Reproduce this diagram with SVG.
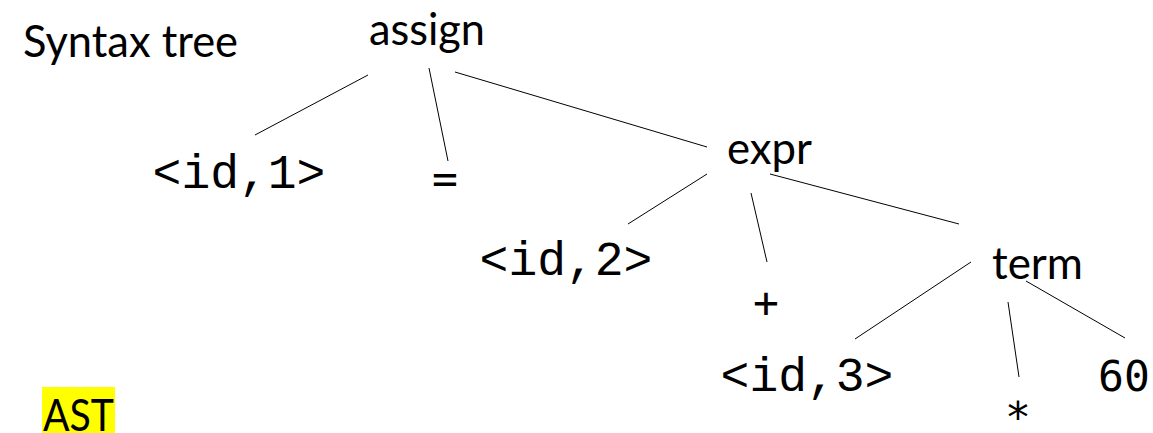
<svg xmlns="http://www.w3.org/2000/svg" width="1153" height="433" viewBox="0 0 1153 433">
  <style>
    .sans { font-family: Lato, "Open Sans", "Liberation Sans", sans-serif; font-size: 44px; fill: #000; }
    .mono { font-family: "Liberation Mono", "Courier New", monospace; font-size: 48px; fill: #000; text-anchor: middle; }
    .sym { font-family: "DejaVu Sans Mono", monospace; font-size: 43px; fill: #000; text-anchor: middle; }
    .edge { stroke: #000; stroke-width: 1; fill: none; }
  </style>
  <rect width="1153" height="433" fill="#fff"/>
  <g id="title">
    <text class="sans" x="23" y="57" textLength="215" lengthAdjust="spacingAndGlyphs">Syntax tree</text>
  </g>
  <g id="ast-label">
    <rect x="42" y="387" width="73" height="46" fill="#FFFF00"/>
    <text class="sans" x="43" y="431" textLength="71" lengthAdjust="spacingAndGlyphs">AST</text>
  </g>
  <g id="connectors">
    <line class="edge" x1="368" y1="75" x2="255" y2="135"/>
    <line class="edge" x1="429" y1="68" x2="448" y2="161"/>
    <line class="edge" x1="455" y1="72" x2="707" y2="147"/>
    <line class="edge" x1="707" y1="174" x2="628" y2="224"/>
    <line class="edge" x1="751" y1="193" x2="767" y2="262"/>
    <line class="edge" x1="770" y1="174" x2="959" y2="224"/>
    <line class="edge" x1="971" y1="262" x2="855" y2="339"/>
    <line class="edge" x1="1008" y1="302" x2="1019" y2="377"/>
    <line class="edge" x1="1026" y1="281" x2="1125" y2="338"/>
  </g>
  <g id="node-assign">
    <text class="sans" x="369" y="45" textLength="116" lengthAdjust="spacingAndGlyphs">assign</text>
  </g>
  <g id="node-id1">
    <text class="mono" x="239" y="188">&lt;id,1&gt;</text>
  </g>
  <g id="node-eq">
    <text class="sym" x="445" y="193">=</text>
  </g>
  <g id="node-expr">
    <text class="sans" x="727" y="164" textLength="85" lengthAdjust="spacingAndGlyphs">expr</text>
  </g>
  <g id="node-id2">
    <text class="mono" x="566" y="275">&lt;id,2&gt;</text>
  </g>
  <g id="node-plus">
    <text class="sym" x="766" y="317">+</text>
  </g>
  <g id="node-term">
    <text class="sans" x="992" y="279" textLength="91" lengthAdjust="spacingAndGlyphs">term</text>
  </g>
  <g id="node-id3">
    <text class="mono" x="807" y="391">&lt;id,3&gt;</text>
  </g>
  <g id="node-star">
    <text class="sym" x="1018" y="432">*</text>
  </g>
  <g id="node-60">
    <text class="sym" x="1124" y="391">60</text>
  </g>
</svg>
